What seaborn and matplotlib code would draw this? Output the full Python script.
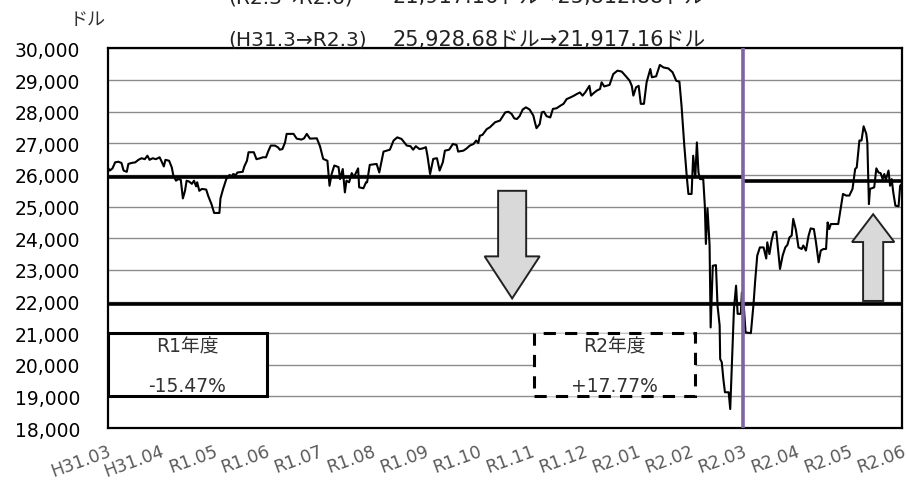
import matplotlib
matplotlib.use("Agg")
import numpy as np
import pandas as pd
import seaborn as sns
from matplotlib import pyplot as plt
from matplotlib.patches import Rectangle
from matplotlib.ticker import FuncFormatter

# month labels on the category axis
months = ['H31.03', 'H31.04', 'R1.05', 'R1.06', 'R1.07', 'R1.08', 'R1.09', 'R1.10',
          'R1.11', 'R1.12', 'R2.01', 'R2.02', 'R2.03', 'R2.04', 'R2.05', 'R2.06']

# position in months from H31.03
month_pos = [
    0.00, 0.04, 0.09, 0.14, 0.20, 0.26, 0.30, 0.36, 0.39, 0.45, 0.52, 0.58, 0.64, 0.70,
    0.75, 0.79, 0.85, 0.91, 0.98, 1.02, 1.06, 1.09, 1.16, 1.21, 1.24, 1.29, 1.33, 1.38,
    1.42, 1.46, 1.49, 1.54, 1.59, 1.63, 1.67, 1.69, 1.73, 1.78, 1.86, 1.90, 1.96, 2.01,
    2.11, 2.13, 2.18, 2.24, 2.30, 2.34, 2.37, 2.42, 2.45, 2.55, 2.58, 2.63, 2.66, 2.76,
    2.81, 2.88, 2.93, 2.99, 3.03, 3.08, 3.16, 3.22, 3.25, 3.30, 3.35, 3.38,
    3.51, 3.57, 3.66, 3.71, 3.76, 3.82, 3.95, 4.01, 4.07, 4.15, 4.19, 4.23, 4.28, 4.36,
    4.39, 4.44, 4.48, 4.51, 4.56, 4.61, 4.65, 4.73, 4.75, 4.83, 4.88, 4.90, 4.95, 5.08,
    5.13, 5.21, 5.33, 5.40, 5.47, 5.55, 5.65, 5.72, 5.77, 5.82, 5.89, 5.95, 6.01, 6.04,
    6.09, 6.15, 6.22, 6.27, 6.33, 6.37, 6.45, 6.52, 6.59, 6.62, 6.72, 6.78, 6.84, 6.91,
    6.96, 7.00, 7.03, 7.08, 7.16, 7.22,
    7.32, 7.41, 7.51, 7.57, 7.63, 7.68, 7.73, 7.78, 7.84, 7.90, 7.97, 8.04, 8.07, 8.10,
    8.16, 8.20, 8.24, 8.29, 8.36, 8.41, 8.48, 8.55, 8.61, 8.67, 8.75, 8.81, 8.86, 8.92,
    8.97, 9.02, 9.10, 9.13, 9.18, 9.24, 9.30, 9.33, 9.38, 9.48, 9.55, 9.63, 9.71, 9.79,
    9.86, 9.90, 9.93, 9.98, 10.03, 10.07, 10.13, 10.18, 10.25, 10.28, 10.36, 10.43,
    10.50, 10.59, 10.67, 10.74, 10.80, 10.84, 10.89,
    10.94, 10.97, 11.03, 11.06, 11.10, 11.13, 11.16, 11.19, 11.25, 11.28, 11.30, 11.33,
    11.37, 11.39, 11.43, 11.49, 11.52, 11.56, 11.57, 11.60, 11.63, 11.66, 11.73, 11.76,
    11.79, 11.83, 11.87, 11.90, 11.96, 11.98, 12.02, 12.05, 12.15,
    12.20, 12.23, 12.27, 12.32, 12.39, 12.44, 12.46, 12.50, 12.54, 12.58, 12.63, 12.65,
    12.70, 12.75, 12.80, 12.84, 12.88, 12.92, 12.95, 13.00, 13.05, 13.11, 13.14, 13.19,
    13.24, 13.28, 13.34, 13.38, 13.43, 13.47, 13.52, 13.57, 13.60, 13.63, 13.66, 13.80,
    13.85, 13.89, 13.95, 14.01, 14.07, 14.12, 14.15, 14.20, 14.24, 14.28, 14.33, 14.35,
    14.38, 14.40, 14.43, 14.48, 14.52, 14.56, 14.60, 14.64, 14.67, 14.70, 14.75, 14.78,
    14.81, 14.84, 14.88, 14.94, 14.97, 15.00,
]

# NY Dow close, dollars
dow = [
    26240, 26140, 26210, 26400, 26420, 26380, 26140, 26100, 26350, 26380, 26400, 26480, 26530, 26500,
    26610, 26480, 26530, 26500, 26560, 26420, 26270, 26480, 26450, 26240, 25980, 25820, 25870, 25850,
    25260, 25500, 25820, 25790, 25720, 25820, 25640, 25770, 25500, 25560, 25540, 25330, 25080, 24800,
    24800, 25260, 25560, 25870, 26000, 25960, 26030, 26000, 26080, 26100, 26270, 26450, 26720, 26720,
    26500, 26530, 26560, 26560, 26740, 26930, 26930, 26870, 26800, 26820, 27030, 27300,
    27300, 27150, 27120, 27160, 27300, 27150, 27160, 26910, 26510, 26450, 25660, 26030, 26300, 26250,
    25870, 26190, 25450, 25820, 25770, 26060, 25930, 26210, 25610, 25580, 25770, 25770, 26320, 26350,
    26080, 26740, 26800, 27090, 27190, 27140, 26930, 26910, 26800, 26910, 26820, 26840, 26880, 26610,
    26030, 26510, 26530, 26140, 26400, 26770, 26800, 26980, 26950, 26740, 26770, 26840, 26930, 26980,
    27090, 27010, 27240, 27270, 27450, 27510,
    27670, 27720, 27980, 28000, 27930, 27790, 27770, 27860, 28070, 28140, 28070, 27880, 27670, 27480,
    27610, 27980, 28000, 27860, 27820, 28090, 28110, 28190, 28250, 28400, 28460, 28510, 28560, 28610,
    28510, 28610, 28820, 28510, 28590, 28670, 28720, 28930, 28800, 28850, 29190, 29300, 29270, 29120,
    28980, 28820, 28510, 28770, 28820, 28250, 28250, 28930, 29350, 29090, 29120, 29480,
    29400, 29370, 29250, 28980, 28950, 28190, 26980,
    25930, 25400, 25400, 26610, 25930, 27030, 26080, 25870, 25870, 25030, 23820, 24950,
    23770, 21180, 23130, 23150, 21870, 21240, 20180, 20080, 19550, 19130, 19130, 18600,
    19970, 21760, 22500, 21610, 21610, 22290, 21760, 21020, 21000,
    21920, 22630, 23450, 23710, 23710, 23360, 23870, 23500, 23920, 24190, 24210, 23870,
    23030, 23450, 23710, 23790, 24030, 24080, 24610, 24270, 23710, 23660, 23770, 23610,
    24080, 24310, 24290, 23870, 23240, 23610, 23660, 23660, 24500, 24290, 24450, 24450,
    24980, 25400, 25350, 25350, 25560, 26190, 26240, 27090, 27090, 27540, 27300, 27030,
    25080, 25560, 25580, 25610, 26210, 26080, 26060, 25870, 26030, 25850, 26140, 25660,
    25870, 25450, 25030, 25010, 25660, 25720,
]

# fiscal-year reference levels
level_h31_3 = 25928.68
level_r2_3 = 21917.16
level_r2_6 = 25812.88

title_periods = ['(R2.3→R2.6)', '(H31.3→R2.3)']
title_values = ['21,917.16ドル→25,812.88ドル', '25,928.68ドル→21,917.16ドル']
box_titles = ['R1年度', 'R2年度']
box_changes = ['-15.47%', '+17.77%']

df = pd.DataFrame({'month': month_pos, 'dow': dow})

sns.set_theme(style='white')
plt.rcParams['font.family'] = ['DejaVu Sans', 'Noto Sans CJK JP']

fig = plt.figure(figsize=(9.06, 4.81), dpi=100)
ax = fig.add_axes([0.1189, 0.1081, 0.8764, 0.789])

ax.set_xlim(0, 15)
ax.set_ylim(18000, 30000)
ax.set_yticks(np.arange(18000, 30001, 1000))
ax.yaxis.set_major_formatter(FuncFormatter(lambda v, p: f'{v:,.0f}'))
ax.grid(axis='y', color='#8c8c8c', linewidth=1.0, zorder=0)
ax.set_axisbelow(True)

# fiscal-year text boxes (white fill hides the gridlines)
ax.add_patch(Rectangle((0, 19000), 3, 2000, facecolor='white', edgecolor='black',
                       linewidth=2.2, zorder=2))
ax.add_patch(Rectangle((8.05, 19000), 3.05, 2000, facecolor='white', edgecolor='black',
                       linewidth=2.2, linestyle=(0, (4, 3)), zorder=2))
for cx, t, c in zip([1.5, 9.57], box_titles, box_changes):
    ax.text(cx, 20600, t, ha='center', va='center', fontsize=13.5, color='#333333', zorder=3)
    ax.text(cx, 19350, c, ha='center', va='center', fontsize=13.5, color='#333333', zorder=3)

# arrows
ax.arrow(7.64, 25500, 0, level_r2_3 + 180 - 25500, width=0.53, head_width=1.04,
         head_length=1330, length_includes_head=True, facecolor='#d9d9d9',
         edgecolor='#222222', linewidth=1.4, zorder=2)
ax.arrow(14.46, level_r2_3 + 100, 0, 24760 - level_r2_3 - 100, width=0.38, head_width=0.8,
         head_length=880, length_includes_head=True, facecolor='#d9d9d9',
         edgecolor='#222222', linewidth=1.4, zorder=2)

sns.lineplot(data=df, x='month', y='dow', color='black', linewidth=1.5, ax=ax, zorder=4)

ax.hlines(level_h31_3, 0, 12, color='black', linewidth=2.6, zorder=5)
ax.hlines(level_r2_3, 0, 15, color='black', linewidth=2.6, zorder=5)
ax.hlines(level_r2_6, 12, 15, color='black', linewidth=2.6, zorder=5)
ax.axvline(12, color='#8064a2', linewidth=2.6, zorder=6)

ax.set_xticks(range(len(months)))
ax.set_xticklabels(months, rotation=20, ha='right', rotation_mode='anchor',
                   fontsize=12.5, color='#595959')
ax.tick_params(axis='x', direction='out', length=5, width=1.5, color='black', pad=5)
ax.tick_params(axis='y', direction='out', length=5, width=1.5, color='black', pad=15)
plt.setp(ax.get_yticklabels(), fontsize=13.5, color='black')
ax.set_xlabel('')
ax.set_ylabel('')
for s in ax.spines.values():
    s.set_color('black')
    s.set_linewidth(1.6)

fig.text(88 / 906, 1 - 20 / 481, 'ドル', ha='center', va='center', fontsize=13, color='#333333')
for yy, p, v in zip([1 - 3 / 481, 1 - 46 / 481], title_periods, title_values):
    fig.text(228 / 906, yy, p, ha='left', va='baseline', fontsize=14.5, color='#222222')
    fig.text(393 / 906, yy, v, ha='left', va='baseline', fontsize=15, color='#222222')

fig.savefig('out.png', dpi=100)
